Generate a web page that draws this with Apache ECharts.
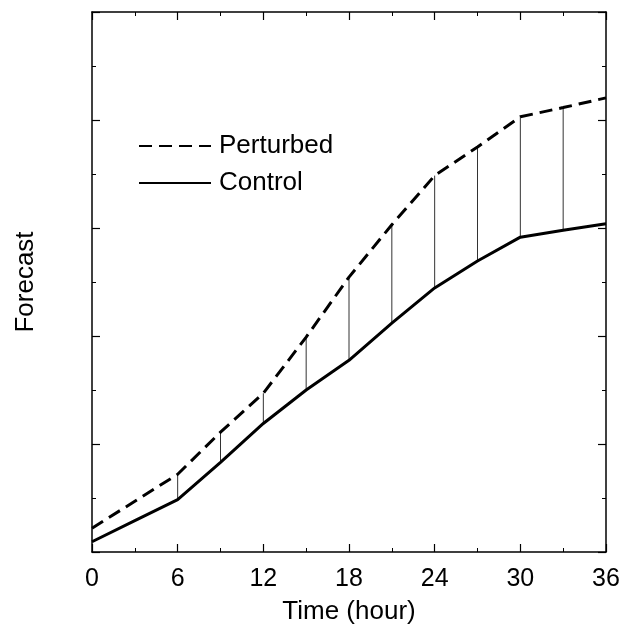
<!DOCTYPE html>
<html>
<head>
<meta charset="utf-8">
<script src="https://cdn.jsdelivr.net/npm/echarts@6/dist/echarts.min.js"></script>
<style>html,body{margin:0;padding:0;background:#fff;}#c{width:627px;height:624px;}</style>
</head>
<body>
<div id="c"></div>
<script>
var hours = [0, 3, 6, 9, 12, 15, 18, 21, 24, 27, 30, 33, 36];
var perturbed = [0.44, 0.94, 1.44, 2.22, 2.94, 3.98, 5.09, 6.06, 6.97, 7.50, 8.06, 8.23, 8.41];
var control = [0.19, 0.58, 0.97, 1.66, 2.38, 3.00, 3.55, 4.24, 4.89, 5.39, 5.83, 5.96, 6.08];
var diffHours = [6, 9, 12, 15, 18, 21, 24, 27, 30, 33];

var font = '"Liberation Sans", Arial, Helvetica, sans-serif';
var chart = echarts.init(document.getElementById('c'));

function pairs(ys) { return hours.map(function (h, i) { return [h, ys[i]]; }); }
var diffData = diffHours.map(function (h) {
  var i = hours.indexOf(h);
  return [h, control[i], perturbed[i]];
});

function axisCommon() {
  return {
    axisLine: { show: true, onZero: false, lineStyle: { color: '#000', width: 1.5 } },
    axisTick: { show: true, inside: true, length: 8, lineStyle: { color: '#000', width: 1.2 } },
    minorTick: { show: true, splitNumber: 2, length: 4, lineStyle: { color: '#000', width: 1 } },
    splitLine: { show: false },
    minorSplitLine: { show: false }
  };
}

chart.setOption({
  animation: false,
  backgroundColor: '#fff',
  grid: { left: 92, right: 21, top: 12, bottom: 72, containLabel: false, outerBoundsMode: 'none' },
  legend: {
    left: 138, top: 133, orient: 'vertical', padding: 0, itemWidth: 72, itemHeight: 14, itemGap: 11,
    itemStyle: { opacity: 0 },
    textStyle: { fontFamily: font, fontSize: 26, color: '#000', padding: [0, 0, 0, 3] },
    data: ['Perturbed', 'Control']
  },
  xAxis: [
    Object.assign(axisCommon(), {
      type: 'value', min: 0, max: 36, interval: 6, position: 'bottom',
      name: 'Time (hour)', nameLocation: 'middle', nameGap: 47,
      nameTextStyle: { fontFamily: font, fontSize: 26, color: '#000' },
      axisLabel: { fontFamily: font, fontSize: 25, color: '#000', margin: 15 }
    }),
    Object.assign(axisCommon(), {
      type: 'value', min: 0, max: 36, interval: 6, position: 'top',
      axisLabel: { show: false }
    })
  ],
  yAxis: [
    Object.assign(axisCommon(), {
      type: 'value', min: 0, max: 10, interval: 2, position: 'left',
      name: 'Forecast', nameLocation: 'middle', nameGap: 53,
      nameTextStyle: { fontFamily: font, fontSize: 26, color: '#000' },
      axisLabel: { show: false }
    }),
    Object.assign(axisCommon(), {
      type: 'value', min: 0, max: 10, interval: 2, position: 'right',
      axisLabel: { show: false }
    })
  ],
  series: [
    {
      name: 'Perturbed', type: 'line', data: pairs(perturbed),
      showSymbol: false, symbol: 'none',
      lineStyle: { color: '#000', width: 3, type: [13, 7] },
      itemStyle: { color: '#000' }
    },
    {
      name: 'Control', type: 'line', data: pairs(control),
      showSymbol: false, symbol: 'none',
      lineStyle: { color: '#000', width: 3 },
      itemStyle: { color: '#000' }
    },
    {
      name: 'diff', type: 'custom', data: diffData,
      renderItem: function (params, api) {
        var p1 = api.coord([api.value(0), api.value(1)]);
        var p2 = api.coord([api.value(0), api.value(2)]);
        return { type: 'line', shape: { x1: p1[0], y1: p1[1], x2: p2[0], y2: p2[1] },
          style: { stroke: '#333', lineWidth: 1 } };
      },
      z: 1
    }
  ]
});
</script>
</body>
</html>
